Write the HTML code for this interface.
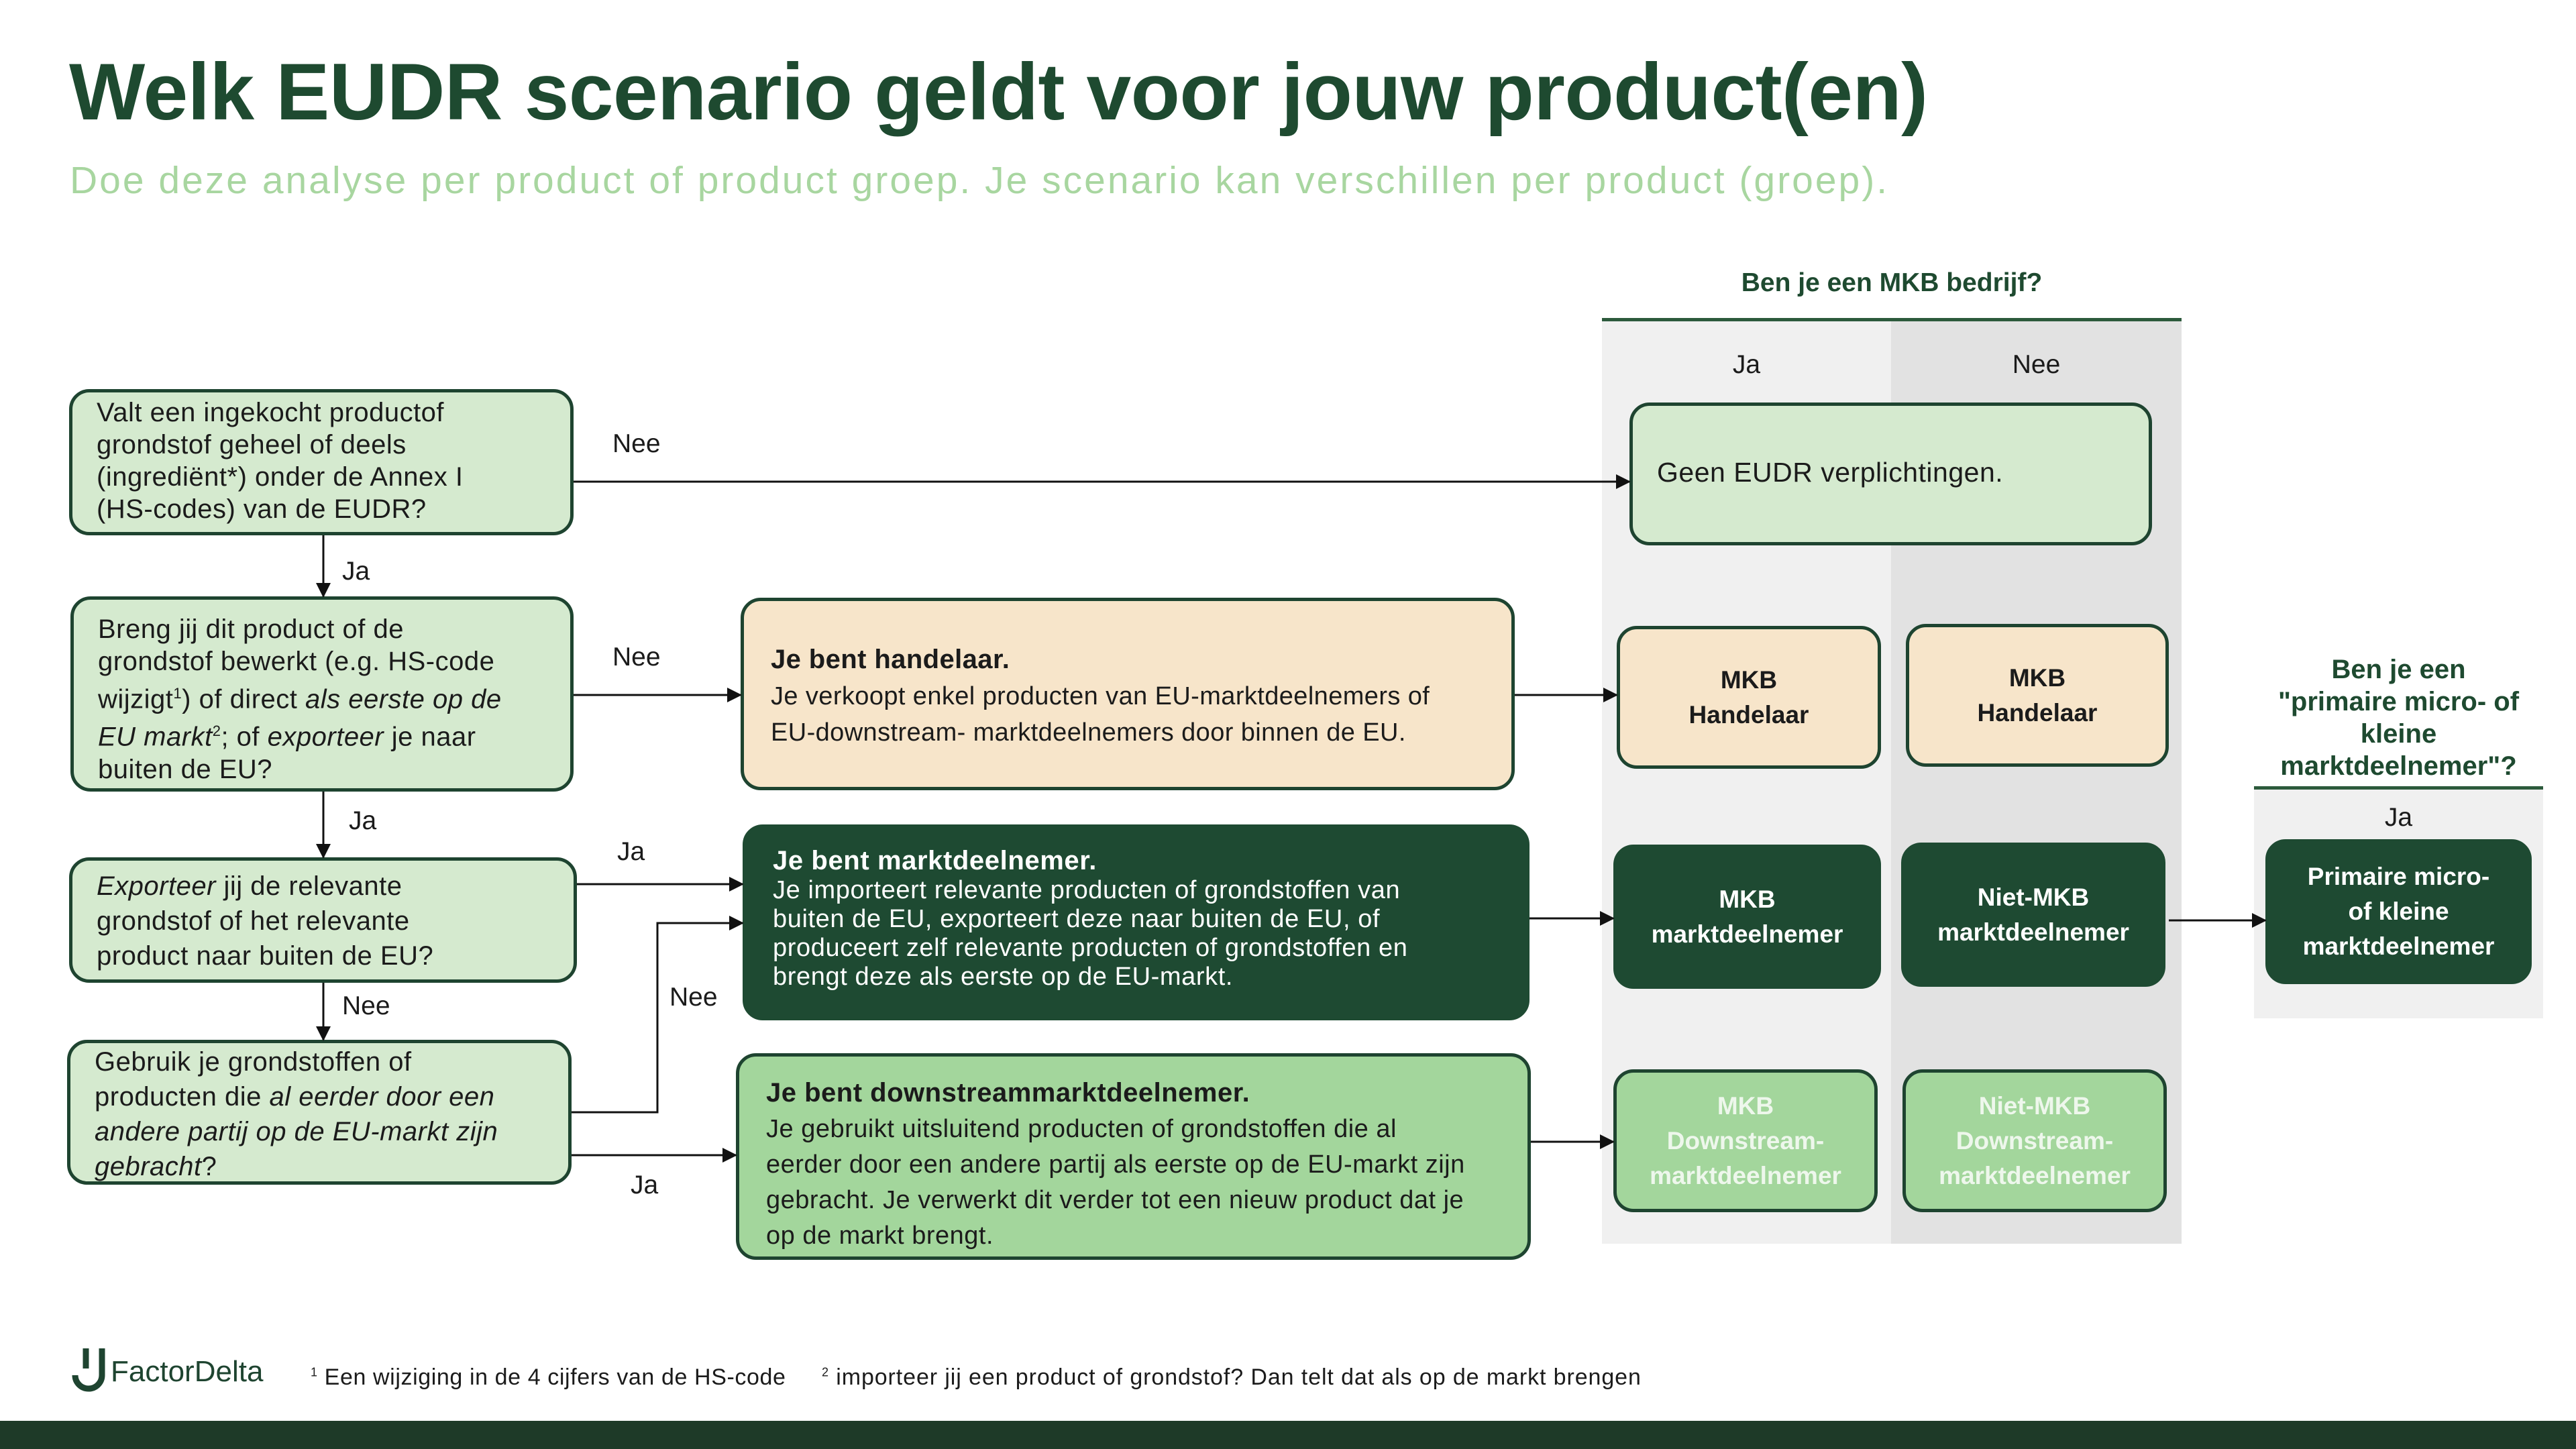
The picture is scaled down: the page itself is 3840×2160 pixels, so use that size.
<!DOCTYPE html>
<html><head><meta charset="utf-8"><style>
*{margin:0;padding:0;box-sizing:border-box}
body{width:3840px;height:2160px;background:#fff;position:relative;overflow:hidden;font-family:"Liberation Sans",sans-serif;color:#1b1b1b}
.a{position:absolute}
.box{position:absolute;border:5px solid #1e4430;border-radius:30px;white-space:nowrap}
.q{background:#d5eacf;font-size:40px;line-height:48px;padding:6px 36px;letter-spacing:0.5px}
.c{display:flex;align-items:center;justify-content:center;text-align:center;font-weight:bold;font-size:37px;line-height:52px}
.lbl{position:absolute;font-size:39px}
</style></head><body>
<div class="a" style="left:103px;top:68px;font-size:120px;font-weight:bold;color:#1e4a30;letter-spacing:-0.6px">Welk EUDR scenario geldt voor jouw product(en)</div>
<div class="a" style="left:104px;top:236px;font-size:57px;color:#a8d6a0;letter-spacing:3px">Doe deze analyse per product of product groep. Je scenario kan verschillen per product (groep).</div>

<div class="a" style="left:2388px;top:478px;width:431px;height:1376px;background:#f0f0f0"></div>
<div class="a" style="left:2819px;top:478px;width:433px;height:1376px;background:#e2e2e2"></div>
<div class="a" style="left:2388px;top:474px;width:864px;height:5px;background:#2c5a3c"></div>
<div class="a" style="left:2388px;top:400px;width:864px;text-align:center;font-size:39px;font-weight:bold;color:#1e4a30">Ben je een MKB bedrijf?</div>
<div class="a" style="left:2388px;top:522px;width:431px;text-align:center;font-size:39px">Ja</div>
<div class="a" style="left:2819px;top:522px;width:433px;text-align:center;font-size:39px">Nee</div>

<div class="a" style="left:3360px;top:1175px;width:431px;height:343px;background:#f0f0f0"></div>
<div class="a" style="left:3360px;top:1172px;width:431px;height:5px;background:#2c5a3c"></div>
<div class="a" style="left:3360px;top:974px;width:431px;text-align:center;font-size:40px;line-height:48px;font-weight:bold;color:#1e4a30">Ben je een<br>"primaire micro- of<br>kleine<br>marktdeelnemer"?</div>
<div class="a" style="left:3360px;top:1197px;width:431px;text-align:center;font-size:39px">Ja</div>

<div class="box q" style="left:103px;top:580px;width:752px;height:218px">Valt een ingekocht productof<br>grondstof geheel of deels<br>(ingrediënt*) onder de Annex I<br>(HS-codes) van de EUDR?</div>
<div class="box q" style="left:105px;top:889px;width:750px;height:291px;padding-top:20px">Breng jij dit product of de<br>grondstof bewerkt (e.g. HS-code<br>wijzigt<sup style="font-size:22px">1</sup>) of direct <i>als eerste op de</i><br><i>EU markt</i><sup style="font-size:22px">2</sup>; of <i>exporteer</i> je naar<br>buiten de EU?</div>
<div class="box q" style="left:103px;top:1278px;width:757px;height:187px;padding-top:12px;line-height:52px"><i>Exporteer</i> jij de relevante<br>grondstof of het relevante<br>product naar buiten de EU?</div>
<div class="box q" style="left:100px;top:1550px;width:752px;height:216px;line-height:52px;padding-top:2px">Gebruik je grondstoffen of<br>producten die <i>al eerder door een</i><br><i>andere partij op de EU-markt zijn</i><br><i>gebracht</i>?</div>

<div class="box" style="left:1104px;top:891px;width:1154px;height:287px;background:#f7e5ca;padding:60px 40px 0;font-size:38px;line-height:54px;letter-spacing:0.4px"><b style="font-size:40px">Je bent handelaar.</b><br>Je verkoopt enkel producten van EU-marktdeelnemers of<br>EU-downstream- marktdeelnemers door binnen de EU.</div>
<div class="box" style="left:1107px;top:1229px;width:1173px;height:292px;background:#1e4a32;border-color:#1e4a32;color:#fff;padding:28px 40px 0;font-size:38px;line-height:43px;letter-spacing:0.6px"><b style="font-size:40px">Je bent marktdeelnemer.</b><br>Je importeert relevante producten of grondstoffen van<br>buiten de EU, exporteert deze naar buiten de EU, of<br>produceert zelf relevante producten of grondstoffen en<br>brengt deze als eerste op de EU-markt.</div>
<div class="box" style="left:1097px;top:1570px;width:1185px;height:308px;background:#a3d69c;padding:28px 40px 0;font-size:38px;line-height:53px;letter-spacing:0.5px"><b style="font-size:40px">Je bent downstreammarktdeelnemer.</b><br>Je gebruikt uitsluitend producten of grondstoffen die al<br>eerder door een andere partij als eerste op de EU-markt zijn<br>gebracht. Je verwerkt dit verder tot een nieuw product dat je<br>op de markt brengt.</div>

<div class="box" style="left:2429px;top:600px;width:779px;height:213px;background:#d5eacf;font-size:41px;padding:76px 36px 0;letter-spacing:0.5px">Geen EUDR verplichtingen.</div>
<div class="box c" style="left:2410px;top:933px;width:394px;height:213px;background:#f7e5ca">MKB<br>Handelaar</div>
<div class="box c" style="left:2841px;top:930px;width:392px;height:213px;background:#f7e5ca">MKB<br>Handelaar</div>
<div class="box c" style="left:2405px;top:1259px;width:399px;height:215px;background:#1e4a32;border-color:#1e4a32;color:#fff">MKB<br>marktdeelnemer</div>
<div class="box c" style="left:2834px;top:1256px;width:394px;height:215px;background:#1e4a32;border-color:#1e4a32;color:#fff">Niet-MKB<br>marktdeelnemer</div>
<div class="box c" style="left:2405px;top:1594px;width:394px;height:213px;background:#a3d69c;color:#eef7ec">MKB<br>Downstream-<br>marktdeelnemer</div>
<div class="box c" style="left:2836px;top:1594px;width:394px;height:213px;background:#a3d69c;color:#eef7ec">Niet-MKB<br>Downstream-<br>marktdeelnemer</div>
<div class="box c" style="left:3377px;top:1251px;width:397px;height:216px;background:#1e4a32;border-color:#1e4a32;color:#fff">Primaire micro-<br>of kleine<br>marktdeelnemer</div>

<svg class="a" style="left:0;top:0" width="3840" height="2160">
<defs><marker id="m2" markerWidth="22" markerHeight="22" refX="20" refY="11" orient="auto" markerUnits="userSpaceOnUse"><path d="M0,0L22,11L0,22z" fill="#111"/></marker></defs>
<g stroke="#111" stroke-width="3" fill="none" marker-end="url(#m2)">
<path d="M855 718H2429"/>
<path d="M482 798V889"/>
<path d="M855 1036H1104"/>
<path d="M482 1180V1278"/>
<path d="M860 1318H1107"/>
<path d="M482 1465V1550"/>
<path d="M852 1658H980V1376H1107"/>
<path d="M852 1722H1097"/>
<path d="M2258 1036H2410"/>
<path d="M2280 1369H2405"/>
<path d="M2282 1702H2405"/>
<path d="M3233 1372H3377"/>
</g>
<path d="M128 2010V2040M112 2050a20 20 0 1 0 40 0V2010" stroke="#1e4430" stroke-width="9" fill="none"/>
</svg>
<div class="lbl" style="left:913px;top:640px">Nee</div>
<div class="lbl" style="left:510px;top:830px">Ja</div>
<div class="lbl" style="left:913px;top:958px">Nee</div>
<div class="lbl" style="left:520px;top:1202px">Ja</div>
<div class="lbl" style="left:920px;top:1248px">Ja</div>
<div class="lbl" style="left:510px;top:1478px">Nee</div>
<div class="lbl" style="left:998px;top:1465px">Nee</div>
<div class="lbl" style="left:940px;top:1745px">Ja</div>

<div class="a" style="left:165px;top:2020px;font-size:44px;color:#1e4430">FactorDelta</div>
<div class="a" style="left:463px;top:2034px;font-size:34px;letter-spacing:0.6px"><sup style="font-size:18px">1</sup> Een wijziging in de 4 cijfers van de HS-code</div>
<div class="a" style="left:1225px;top:2034px;font-size:34px;letter-spacing:0.9px"><sup style="font-size:18px">2</sup> importeer jij een product of grondstof? Dan telt dat als op de markt brengen</div>
<div class="a" style="left:0;top:2118px;width:3840px;height:42px;background:#1e3a28"></div>
</body></html>
